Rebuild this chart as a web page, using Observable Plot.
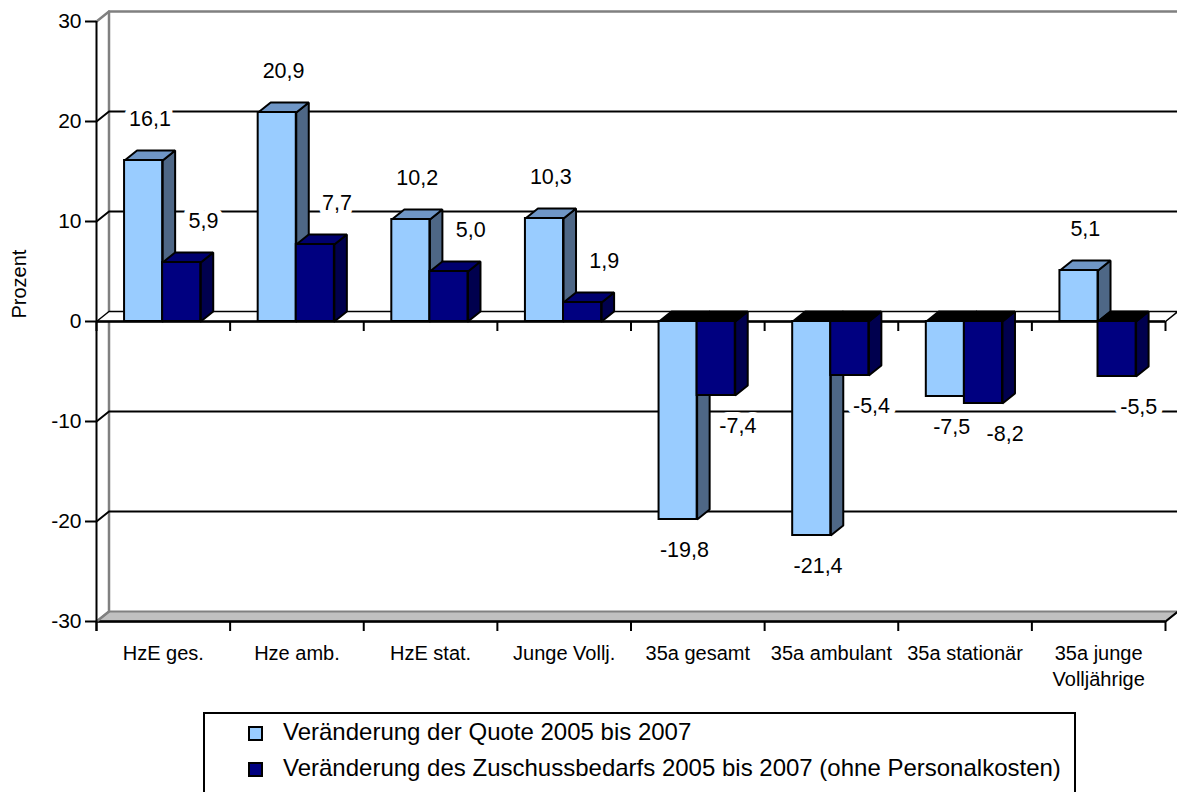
<!DOCTYPE html>
<html>
<head>
<meta charset="utf-8">
<script src="https://cdn.jsdelivr.net/npm/d3@7"></script>
<script src="https://cdn.jsdelivr.net/npm/@observablehq/plot@0.6"></script>
<style>
  html, body { margin: 0; padding: 0; background: #fff; }
  body { width: 1177px; height: 792px; position: relative; overflow: hidden;
         font-family: "Liberation Sans", Arial, sans-serif; }
  #chart { position: absolute; left: 0; top: 0; }
  #legend { position: absolute; left: 203px; top: 712px; width: 873px; height: 82px;
            border: 2px solid #000; box-sizing: border-box; background: #fff; }
  .item { position: absolute; left: 43px; height: 24px; line-height: 24px; font-size: 24px;
          white-space: nowrap; color: #000; }
  .sw { position: absolute; left: 0; top: 6px; width: 11px; height: 11px; border: 2px solid #000; }
  .lbl { position: absolute; left: 35px; top: 0; }
</style>
</head>
<body>
<div id="chart"></div>
<div id="legend"></div>
<script>
// ---- data ----
const categories = ["HzE ges.", "Hze amb.", "HzE stat.", "Junge Vollj.", "35a gesamt", "35a ambulant", "35a stationär", "35a junge\nVolljährige"];
const quote = [16.1, 20.9, 10.2, 10.3, -19.8, -21.4, -7.5, 5.1];
const zuschuss = [5.9, 7.7, 5.0, 1.9, -7.4, -5.4, -8.2, -5.5];
const seriesNames = ["Veränderung der Quote 2005 bis 2007", "Veränderung des Zuschussbedarfs 2005 bis 2007 (ohne Personalkosten)"];
const yTicks = [-30, -20, -10, 0, 10, 20, 30];
const yAxisTitle = "Prozent";

// ---- layout / style ----
const W = 1177, H = 700;
const mL = 96, mR = 12, mT = 21, mB = 79;
const n = categories.length;
const band = (W - mL - mR) / n;          // px per category
const DX = 12.5 / band;                   // 3D depth in x units
const DY = 1;                             // 3D depth in y units (10 px)
const font = "Liberation Sans, Arial, sans-serif";
const fmt = v => (v < 0 ? "-" : "") + d3.format(".1f")(Math.abs(v)).replace(".", ",");

const series = [
  {values: quote, o0: 0.21, o1: 0.495, front: "#99CCFF", top: "#6F96C6", side: "#4E6786", lx: 0.40},
  {values: zuschuss, o0: 0.495, o1: 0.78, front: "#000080", top: "#00006E", side: "#00004E", lx: 0.80}
];

function bars(s) {
  const fronts = [], tops = [], topsNeg = [], sides = [];
  s.values.forEach((v, i) => {
    const x1 = i + s.o0, x2 = i + s.o1;
    fronts.push({x1, x2, y1: 0, y2: v});
    const t = Math.max(v, 0);
    const topPoly = [[x1, t], [x2, t], [x2 + DX, t + DY], [x1 + DX, t + DY], [x1, t]].map(([x, y]) => ({x, y, id: i}));
    (v >= 0 ? tops : topsNeg).push(...topPoly);
    sides.push(...[[x2, 0], [x2 + DX, DY], [x2 + DX, v + DY], [x2, v], [x2, 0]].map(([x, y]) => ({x, y, id: i})));
  });
  return [
    Plot.line(sides, {x: "x", y: "y", z: "id", fill: s.side, stroke: "#000", strokeWidth: 2, strokeLinejoin: "miter"}),
    Plot.line(tops, {x: "x", y: "y", z: "id", fill: s.top, stroke: "#000", strokeWidth: 2, strokeLinejoin: "miter"}),
    Plot.line(topsNeg, {x: "x", y: "y", z: "id", fill: "#000", stroke: "#000", strokeWidth: 2, strokeLinejoin: "miter"}),
    Plot.rect(fronts, {x1: "x1", x2: "x2", y1: "y1", y2: "y2", fill: s.front, stroke: "#000", strokeWidth: 2})
  ];
}

const poly = (pts, id = 0) => pts.map(([x, y]) => ({x, y, id}));
const yMin = yTicks[0], yMax = yTicks[yTicks.length - 1];

const floorPoly = poly([[0, yMin], [n, yMin], [n + DX, yMin + DY], [DX, yMin + DY], [0, yMin]]);
const zeroPoly = poly([[0, 0], [n, 0], [n + DX, DY], [DX, DY], [0, 0]]);
const wallLines = [
  ...poly([[0, yMin], [DX, yMin + DY], [DX, yMax + DY], [n + DX, yMax + DY]], 0),
  ...poly([[0, yMax], [DX, yMax + DY]], 1)
];
const gridVals = yTicks.filter(v => v !== 0 && v !== yMin && v !== yMax);
const gridLines = gridVals.flatMap(v => poly([[0, v], [DX, v + DY], [n + DX, v + DY]], v));
const catTicks = d3.range(n + 1);

const labels = [];
series.forEach(s => s.values.forEach((v, i) => labels.push({x: i + s.lx, y: v, text: fmt(v), pos: v >= 0})));

const tickLen = 11 / band;
const halo = {stroke: "#fff", strokeWidth: 12, strokeLinejoin: "round", fill: "#000", fontSize: 21.5};

const chart = Plot.plot({
  width: W, height: H,
  marginLeft: mL, marginRight: mR, marginTop: mT, marginBottom: mB,
  style: {fontFamily: font, fontSize: "20px", background: "transparent", color: "#000", overflow: "visible"},
  x: {domain: [0, n], axis: null},
  y: {domain: [yMin, yMax], axis: null},
  marks: [
    // floor
    Plot.line(floorPoly, {x: "x", y: "y", z: "id", fill: "#C0C0C0", stroke: "#808080", strokeWidth: 2}),
    Plot.ruleY([yMin], {x1: 0, x2: n, stroke: "#000", strokeWidth: 2.5}),
    Plot.line(poly([[n, yMin], [n + DX, yMin + DY]]), {x: "x", y: "y", stroke: "#000", strokeWidth: 2}),
    // walls
    Plot.line(wallLines, {x: "x", y: "y", z: "id", stroke: "#808080", strokeWidth: 2.5}),
    Plot.line(poly([[n + DX, yMin + DY], [n + DX, yMax + DY]]), {x: "x", y: "y", stroke: "#D0D0D0", strokeWidth: 1.5}),
    // gridlines
    Plot.line(gridLines, {x: "x", y: "y", z: "id", stroke: "#000", strokeWidth: 2}),
    // zero plane
    Plot.line(zeroPoly, {x: "x", y: "y", z: "id", fill: "#fff", stroke: "#000", strokeWidth: 1.5}),
    Plot.ruleY([0], {x1: 0, x2: n, stroke: "#000", strokeWidth: 2.5}),
    // bars
    ...bars(series[0]),
    ...bars(series[1]),
    // category ticks at zero and at floor
    Plot.ruleX(catTicks, {y1: 0, y2: -DY, stroke: "#000", strokeWidth: 2}),
    Plot.ruleX(catTicks, {y1: yMin, y2: yMin - DY, stroke: "#000", strokeWidth: 2}),
    // y axis
    Plot.ruleX([0], {y1: yMin - DY, y2: yMax, stroke: "#000", strokeWidth: 2}),
    Plot.ruleY(yTicks, {x1: -tickLen, x2: 0, stroke: "#000", strokeWidth: 2}),
    Plot.text(yTicks, {x: 0, y: d => d, text: d => String(d), dx: -15, textAnchor: "end", fontSize: 21}),
    // category labels
    Plot.text(categories, {x: (d, i) => i + 0.5, y: yMin, text: d => d, dy: 20, lineAnchor: "top", lineHeight: 1.3, fontSize: 20}),
    // value labels
    Plot.text(labels.filter(d => d.pos), {x: "x", y: "y", text: "text", dy: -41, ...halo}),
    Plot.text(labels.filter(d => !d.pos), {x: "x", y: "y", text: "text", dy: 31, ...halo}),
    // y title
    Plot.text([yAxisTitle], {frameAnchor: "left", text: d => d, rotate: -90, dx: -77, dy: -3, fontSize: 20})
  ]
});
document.getElementById("chart").appendChild(chart);

// legend
const legend = document.getElementById("legend");
const rowTops = [5.5, 42];
seriesNames.forEach((name, k) => {
  const it = document.createElement("div");
  it.className = "item";
  it.style.top = rowTops[k] + "px";
  const sw = document.createElement("div");
  sw.className = "sw";
  sw.style.background = series[k].front;
  const lb = document.createElement("span");
  lb.className = "lbl";
  lb.textContent = name;
  it.appendChild(sw); it.appendChild(lb);
  legend.appendChild(it);
});
</script>
</body>
</html>
